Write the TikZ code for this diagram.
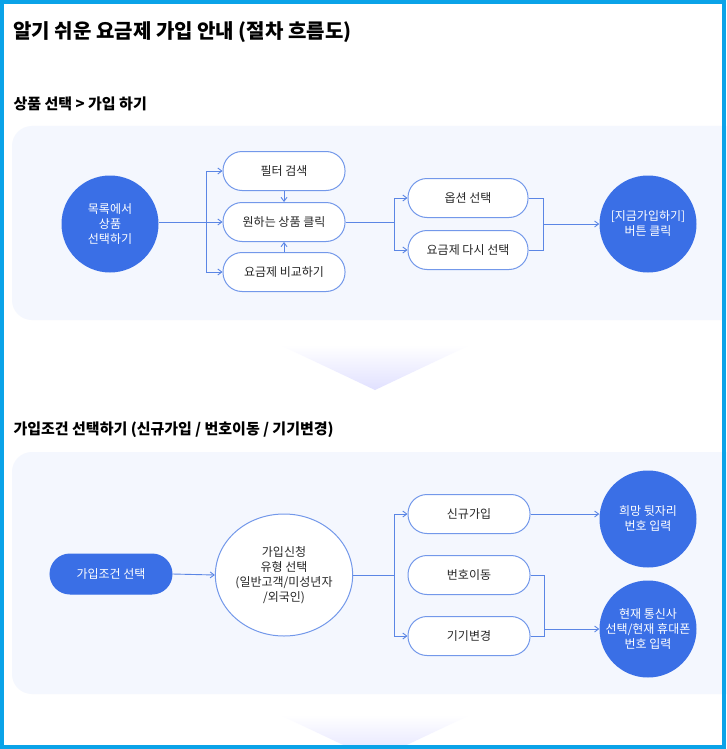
\documentclass[tikz,border=0pt]{standalone}
\usepackage{fontspec}
\setmainfont{Noto Sans CJK KR}
\usetikzlibrary{arrows.meta,shapes.geometric}
\definecolor{frame}{HTML}{0AA3E8}
\definecolor{bl}{HTML}{3A6FE6}
\definecolor{ln}{HTML}{5B86E5}
\definecolor{bd}{HTML}{7398EA}
\definecolor{panel}{HTML}{F4F7FE}
\begin{document}
\begin{tikzpicture}[x=1pt,y=-1pt,
  box/.style={draw=bd,line width=1pt,fill=white,rounded corners=19pt,minimum width=122pt,minimum height=39pt,font=\fontsize{12}{14}\selectfont,text=black!85},
  blc/.style={circle,fill=bl,minimum size=97pt,inner sep=0pt,text=white,align=center,font=\fontsize{12}{15}\selectfont},
  ar/.style={draw=ln,line width=0.9pt,-{Straight Barb[length=4pt,width=6pt]}},
  li/.style={draw=ln,line width=0.9pt},
  head/.style={anchor=west,font=\fontsize{15}{18}\bfseries\selectfont,text=black}]
\useasboundingbox (0,0) rectangle (726,749);
\fill[white] (0,0) rectangle (726,749);
\fill[panel,rounded corners=20pt] (12,126) rectangle (760,320);
\fill[panel,rounded corners=20pt] (12,452) rectangle (760,694);
\shade[top color=white,bottom color=blue!12] (280,345) -- (470,345) -- (375,390) -- cycle;
\shade[top color=white,bottom color=blue!12] (280,715) -- (470,715) -- (375,760) -- cycle;
\node[anchor=west,font=\fontsize{20}{24}\bfseries\selectfont] (title) at (10,32) {알기 쉬운 요금제 가입 안내 (절차 흐름도)};
\node[head] (h1) at (10,104) {상품 선택 > 가입 하기};
\node[head] (h2) at (10,430) {가입조건 선택하기 (신규가입 / 번호이동 / 기기변경)};
% section 1
\node[blc] (c1) at (110,224) {목록에서\\상품\\선택하기};
\node[box] (b1) at (284,171) {필터 검색};
\node[box] (b2) at (284,222) {원하는 상품 클릭};
\node[box] (b3) at (284,272) {요금제 비교하기};
\node[box,minimum width=120pt] (o1) at (468,198) {옵션 선택};
\node[box,minimum width=120pt] (o2) at (468,250) {요금제 다시 선택};
\node[blc] (c2) at (648,224) {[지금가입하기]\\버튼 클릭};
\coordinate (s1) at (206,222);
\coordinate (s2) at (394,222);
\coordinate (s3) at (543,224);
\draw[ar] (c1.east |- s1) -- (b2.west);
\draw[ar] (s1) |- (b1.west);
\draw[ar] (s1) |- (b3.west);
\draw[ar] (b1) -- (b2);
\draw[ar] (b3) -- (b2);
\draw[li] (b2.east) -- (s2);
\draw[ar] (s2) |- (o1.west);
\draw[ar] (s2) |- (o2.west);
\draw[li] (o1.east) -| (s3);
\draw[li] (o2.east) -| (s3);
\draw[ar] (s3) -- (c2.west |- s3);
% section 2
\node[box,fill=bl,draw=bl,text=white,minimum height=40pt,rounded corners=20pt] (p) at (111,574) {가입조건 선택};
\node[ellipse,draw=bd,line width=1pt,fill=white,minimum width=121pt,minimum height=122pt,inner sep=0pt,align=center,font=\fontsize{12}{15}\selectfont,text=black!85] (e) at (284,575) {가입신청\\유형 선택\\(일반고객/미성년자\\/외국인)};
\node[box] (n1) at (469,514) {신규가입};
\node[box] (n2) at (469,575) {번호이동};
\node[box] (n3) at (469,636) {기기변경};
\node[blc] (d1) at (648,519) {희망 뒷자리\\번호 입력};
\node[blc] (d2) at (648,629) {현재 통신사\\선택/현재 휴대폰\\번호 입력};
\coordinate (t1) at (394,575);
\coordinate (t2) at (544,629);
\draw[ar] (p.east) -- (e.west);
\draw[li] (e.east) -- (t1);
\draw[ar] (t1) |- (n1.west);
\draw[ar] (t1) |- (n3.west);
\draw[ar] (n1.east) -- (d1.west |- n1.east);
\draw[li] (n2.east) -| (t2);
\draw[li] (n3.east) -| (t2);
\draw[ar] (t2) -- (d2.west);
\draw[frame,line width=4pt] (2,2) rectangle (724,747);
\end{tikzpicture}
\end{document}
